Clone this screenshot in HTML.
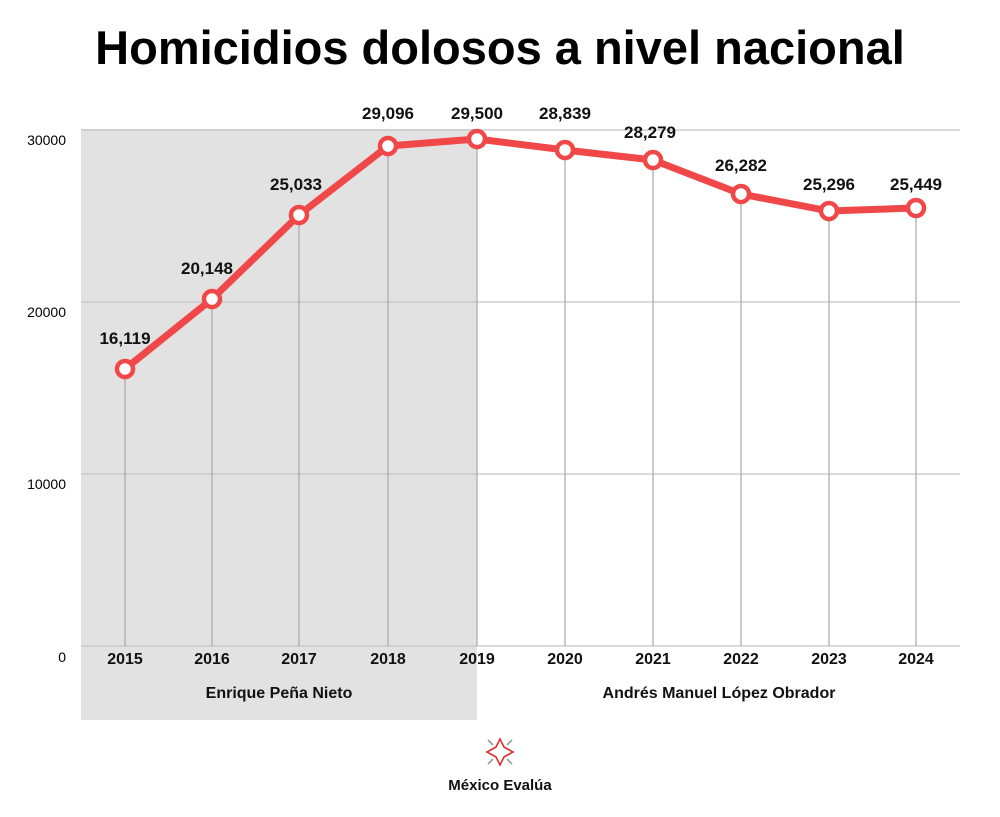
<!DOCTYPE html>
<html><head><meta charset="utf-8"><style>
body{margin:0;background:#fff;}
svg text{font-family:"Liberation Sans",sans-serif;}
</style></head><body>
<svg width="1000" height="812" viewBox="0 0 1000 812" xmlns="http://www.w3.org/2000/svg">
<rect width="1000" height="812" fill="#fff"/>
<text x="500" y="64" text-anchor="middle" font-size="47" font-weight="bold" fill="#000">Homicidios dolosos a nivel nacional</text>
<rect x="81" y="129" width="396" height="591" fill="#e2e2e2"/>
<g stroke="#c4c4c4" stroke-width="1.2">
<line x1="81" y1="130" x2="960" y2="130"/>
<line x1="81" y1="302" x2="960" y2="302"/>
<line x1="81" y1="474" x2="960" y2="474"/>
<line x1="81" y1="646" x2="960" y2="646"/>
</g>
<g stroke="#a8a8a8" stroke-width="1.2">
<line x1="125" y1="369" x2="125" y2="646"/>
<line x1="212" y1="299" x2="212" y2="646"/>
<line x1="299" y1="215" x2="299" y2="646"/>
<line x1="388" y1="146" x2="388" y2="646"/>
<line x1="477" y1="139" x2="477" y2="646"/>
<line x1="565" y1="150" x2="565" y2="646"/>
<line x1="653" y1="160" x2="653" y2="646"/>
<line x1="741" y1="194" x2="741" y2="646"/>
<line x1="829" y1="211" x2="829" y2="646"/>
<line x1="916" y1="208" x2="916" y2="646"/>
</g>
<g font-size="14" fill="#000" text-anchor="end">
<text x="66" y="145">30000</text>
<text x="66" y="317">20000</text>
<text x="66" y="489">10000</text>
<text x="66" y="662">0</text>
</g>
<polyline fill="none" stroke="#f04848" stroke-width="7" stroke-linejoin="round" stroke-linecap="round"
points="125,369 212,299 299,215 388,146 477,139 565,150 653,160 741,194 829,211 916,208"/>
<g fill="#fff" stroke="#f04848" stroke-width="4.5">
<circle cx="125" cy="369" r="8"/><circle cx="212" cy="299" r="8"/><circle cx="299" cy="215" r="8"/>
<circle cx="388" cy="146" r="8"/><circle cx="477" cy="139" r="8"/><circle cx="565" cy="150" r="8"/>
<circle cx="653" cy="160" r="8"/><circle cx="741" cy="194" r="8"/><circle cx="829" cy="211" r="8"/>
<circle cx="916" cy="208" r="8"/>
</g>
<g font-size="17" font-weight="bold" fill="#111" text-anchor="middle">
<text x="125" y="344">16,119</text>
<text x="207" y="274">20,148</text>
<text x="296" y="190">25,033</text>
<text x="388" y="119">29,096</text>
<text x="477" y="119">29,500</text>
<text x="565" y="119">28,839</text>
<text x="650" y="138">28,279</text>
<text x="741" y="171">26,282</text>
<text x="829" y="190">25,296</text>
<text x="916" y="190">25,449</text>
</g>
<g font-size="16" font-weight="bold" fill="#111" text-anchor="middle">
<text x="125" y="664">2015</text><text x="212" y="664">2016</text><text x="299" y="664">2017</text>
<text x="388" y="664">2018</text><text x="477" y="664">2019</text><text x="565" y="664">2020</text>
<text x="653" y="664">2021</text><text x="741" y="664">2022</text><text x="829" y="664">2023</text>
<text x="916" y="664">2024</text>
<text x="279" y="698">Enrique Peña Nieto</text>
<text x="719" y="698">Andrés Manuel López Obrador</text>
</g>
<g transform="translate(500,752)" fill="none" stroke-width="1.6">
<path d="M0,-13 L4,-5 L13,0 L4,5 L0,13 L-4,5 L-13,0 L-4,-5 Z" stroke="#e03030"/>
<line x1="-12" y1="-12" x2="-7" y2="-7" stroke="#999"/>
<line x1="12" y1="-12" x2="7" y2="-7" stroke="#999"/>
<line x1="-12" y1="12" x2="-7" y2="7" stroke="#999"/>
<line x1="12" y1="12" x2="7" y2="7" stroke="#999"/>
</g>
<text x="500" y="790" text-anchor="middle" font-size="15" font-weight="bold" fill="#111">México Evalúa</text>
</svg>
</body></html>
